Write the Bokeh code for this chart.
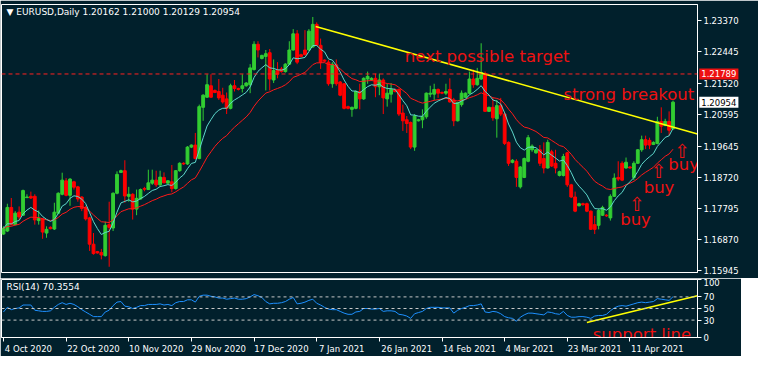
from bokeh.plotting import figure
from bokeh.models import Label, Span, FixedTicker, PrintfTickFormatter, ColumnDataSource, Range1d
from bokeh.layouts import column
from bokeh.core.properties import value
from bokeh.embed import file_html
from bokeh.resources import INLINE

# ---------------- data (EURUSD daily) ----------------
open_ = [1.1704,1.1713,1.1783,1.1732,1.1769,1.1760,1.1812,1.1816,1.1816,1.1744,
         1.1749,1.1707,1.1724,1.1719,1.1766,1.1822,1.1862,1.1819,1.1859,1.1844,
         1.1814,1.1783,1.1752,1.1674,1.1652,1.1649,1.1640,1.1732,1.1722,1.1825,
         1.1887,1.1892,1.1816,1.1822,1.1778,1.1808,1.1839,1.1836,1.1855,1.1864,
         1.1850,1.1872,1.1855,1.1859,1.1839,1.1892,1.1914,1.1912,1.1962,1.1968,
         1.1928,1.2080,1.2110,1.2144,1.2130,1.2127,1.2116,1.2105,1.2077,1.2144,
         1.2136,1.2136,1.2144,1.2147,1.2192,1.2267,1.2225,1.2231,1.2242,1.2161,
         1.2189,1.2194,1.2186,1.2208,1.2250,1.2298,1.2236,1.2250,1.2250,1.2259,
         1.2326,1.2264,1.2220,1.2214,1.2150,1.2206,1.2155,1.2150,1.2082,1.2074,
         1.2077,1.2127,1.2105,1.2164,1.2161,1.2166,1.2141,1.2161,1.2105,1.2119,
         1.2133,1.2133,1.2063,1.2043,1.2035,1.1962,1.2040,1.2043,1.2052,1.2119,
         1.2119,1.2133,1.2124,1.2122,1.2133,1.2102,1.2040,1.2088,1.2110,1.2122,
         1.2164,1.2147,1.2164,1.2180,1.2068,1.2080,1.2046,1.2085,1.2060,1.1976,
         1.1917,1.1920,1.1844,1.1872,1.1920,1.1954,1.1945,1.1954,1.1928,1.1900,
         1.1948,1.1914,1.1878,1.1878,1.1945,1.1850,1.1814,1.1788,1.1794,1.1794,
         1.1772,1.1732,1.1730,1.1760,1.1760,1.1752,1.1816,1.1872,1.1914,1.1900,
         1.1903,1.1872,1.1914,1.1954,1.1984,1.1982,1.1970,1.1973,1.2038,1.2026,
         1.2038,1.20162]
high = [1.1727,1.1794,1.1811,1.1772,1.1786,1.1836,1.1822,1.1830,1.1822,1.1774,
        1.1752,1.1727,1.1727,1.1797,1.1828,1.1886,1.1870,1.1870,1.1862,1.1847,
        1.1816,1.1788,1.1755,1.1707,1.1654,1.1660,1.1741,1.1800,1.1828,1.1890,
        1.1895,1.1923,1.1844,1.1825,1.1836,1.1839,1.1844,1.1895,1.1895,1.1892,
        1.1892,1.1887,1.1864,1.1909,1.1894,1.1917,1.1917,1.1965,1.1970,1.2004,
        1.2088,1.2119,1.2178,1.2178,1.2133,1.2164,1.2138,1.2124,1.2150,1.2161,
        1.2138,1.2178,1.2155,1.2208,1.2276,1.2276,1.2236,1.2250,1.2253,1.2222,
        1.2214,1.2200,1.2211,1.2276,1.2312,1.2309,1.2239,1.2309,1.2312,1.2348,
        1.2332,1.2284,1.2222,1.2220,1.2214,1.2222,1.2158,1.2152,1.2085,1.2082,
        1.2130,1.2150,1.2169,1.2186,1.2169,1.2180,1.2180,1.2166,1.2150,1.2152,
        1.2136,1.2136,1.2088,1.2054,1.2038,1.2060,1.2046,1.2074,1.2124,1.2144,
        1.2150,1.2136,1.2127,1.2150,1.2166,1.2108,1.2096,1.2130,1.2124,1.2186,
        1.2192,1.2197,1.2270,1.2186,1.2082,1.2108,1.2102,1.2108,1.2066,1.1979,
        1.1926,1.1926,1.1906,1.1931,1.1998,1.1970,1.1956,1.1968,1.1976,1.1984,
        1.1954,1.1954,1.1892,1.1942,1.1948,1.1853,1.1830,1.1797,1.1797,1.1797,
        1.1774,1.1758,1.1780,1.1788,1.1763,1.1822,1.1884,1.1920,1.1920,1.1931,
        1.1906,1.1920,1.1956,1.1996,1.1996,1.1990,1.1979,1.2052,1.2080,1.2046,
        1.2068,1.21000]
low = [1.1702,1.1710,1.1730,1.1730,1.1746,1.1758,1.1811,1.1808,1.1732,1.1732,
       1.1690,1.1693,1.1718,1.1716,1.1763,1.1819,1.1816,1.1788,1.1836,1.1800,
       1.1772,1.1744,1.1654,1.1643,1.1646,1.1629,1.1637,1.1607,1.1713,1.1822,
       1.1886,1.1797,1.1800,1.1747,1.1760,1.1806,1.1831,1.1835,1.1850,1.1844,
       1.1845,1.1855,1.1853,1.1828,1.1836,1.1889,1.1909,1.1909,1.1959,1.1926,
       1.1926,1.2040,1.2108,1.2108,1.2122,1.2102,1.2091,1.2060,1.2074,1.2127,
       1.2130,1.2124,1.2141,1.2122,1.2189,1.2228,1.2222,1.2130,1.2130,1.2152,
       1.2166,1.2183,1.2183,1.2206,1.2248,1.2208,1.2228,1.2234,1.2248,1.2256,
       1.2262,1.2194,1.2214,1.2144,1.2138,1.2144,1.2113,1.2074,1.2074,1.2052,
       1.2074,1.2074,1.2102,1.2150,1.2158,1.2110,1.2116,1.2060,1.2082,1.2094,
       1.2124,1.2054,1.2010,1.2004,1.1956,1.1951,1.2038,1.2018,1.2046,1.2110,
       1.2102,1.2108,1.2119,1.2116,1.2094,1.2024,1.2038,1.2082,1.2108,1.2119,
       1.2138,1.2144,1.2161,1.2066,1.2066,1.2040,1.1990,1.2054,1.1968,1.1906,
       1.1914,1.1844,1.1839,1.1870,1.1917,1.1948,1.1942,1.1906,1.1884,1.1898,
       1.1903,1.1884,1.1875,1.1875,1.1844,1.1811,1.1769,1.1786,1.1788,1.1769,
       1.1716,1.1704,1.1718,1.1758,1.1755,1.1744,1.1814,1.1861,1.1861,1.1898,
       1.1898,1.1864,1.1912,1.1948,1.1956,1.1956,1.1968,1.1970,1.2004,1.2024,
       1.1996,1.20129]
close = [1.1721,1.1783,1.1732,1.1766,1.1755,1.1833,1.1814,1.1811,1.1746,1.1750,
         1.1710,1.1718,1.1720,1.1769,1.1825,1.1864,1.1819,1.1867,1.1843,1.1808,
         1.1780,1.1749,1.1674,1.1646,1.1648,1.1642,1.1730,1.1724,1.1825,1.1881,
         1.1892,1.1817,1.1822,1.1778,1.1810,1.1836,1.1837,1.1856,1.1864,1.1850,
         1.1873,1.1856,1.1862,1.1839,1.1892,1.1914,1.1912,1.1962,1.1968,1.1928,
         1.2082,1.2116,1.2147,1.2110,1.2124,1.2108,1.2096,1.2077,1.2144,1.2136,
         1.2133,1.2144,1.2152,1.2197,1.2267,1.2250,1.2234,1.2239,1.2164,1.2189,
         1.2178,1.2186,1.2208,1.2250,1.2298,1.2214,1.2231,1.2236,1.2306,1.2326,
         1.2264,1.2214,1.2217,1.2150,1.2208,1.2150,1.2116,1.2077,1.2077,1.2080,
         1.2127,1.2105,1.2166,1.2172,1.2166,1.2141,1.2161,1.2108,1.2122,1.2133,
         1.2127,1.2060,1.2040,1.2032,1.1962,1.2054,1.2043,1.2052,1.2122,1.2122,
         1.2133,1.2122,1.2122,1.2127,1.2096,1.2040,1.2094,1.2122,1.2122,1.2164,
         1.2147,1.2166,1.2183,1.2068,1.2080,1.2049,1.2085,1.2060,1.1973,1.1914,
         1.1923,1.1872,1.1903,1.1928,1.1990,1.1965,1.1954,1.1914,1.1900,1.1976,
         1.1906,1.1900,1.1889,1.1934,1.1850,1.1814,1.1772,1.1794,1.1791,1.1772,
         1.1718,1.1718,1.1774,1.1783,1.1758,1.1816,1.1870,1.1867,1.1864,1.1917,
         1.1900,1.1914,1.1954,1.1984,1.1968,1.1968,1.1976,1.2038,1.2024,1.2038,
         1.2012,1.20954]
rsi = [44,52,48,50,51,56,56,56,47,46,45,45,46,52,57,60,57,59,57,53,
       48,44,40,36,36,36,44,47,55,61,62,54,53,50,52,55,55,57,57,57,
       58,56,57,55,60,62,62,65,65,61,71,73,73,71,70,68,68,66,67,68,
       66,66,67,70,74,72,69,62,58,59,59,60,62,66,69,58,59,61,64,66,
       59,56,52,49,48,48,45,42,40,40,44,45,50,50,49,49,50,45,46,46,
       45,40,39,37,33,41,43,45,50,52,52,52,51,51,51,42,47,50,52,55,
       55,56,58,44,43,45,44,41,36,34,33,28,35,39,42,42,41,40,39,44,
       43,41,40,45,38,35,35,36,36,35,33,37,38,38,40,46,51,54,55,54,
       56,58,60,61,60,61,62,67,66,65,64,70.3554]

date_tick_idx = [0, 16, 32, 48, 64, 80, 96, 112, 128, 144, 160]
date_tick_labels = ["4 Oct 2020", "22 Oct 2020", "10 Nov 2020", "29 Nov 2020", "17 Dec 2020",
                    "7 Jan 2021", "26 Jan 2021", "14 Feb 2021", "4 Mar 2021", "23 Mar 2021",
                    "11 Apr 2021"]
price_ticks = [1.23370, 1.22445, 1.21520, 1.20595, 1.19645, 1.18720, 1.17795, 1.16870, 1.15945]
rsi_ticks = [0, 30, 50, 70, 100]
rsi_levels = [30, 50, 70]

target_level = 1.21789
last_price = 1.20954
title_text = "\u25BC EURUSD,Daily  1.20162 1.21000 1.20129 1.20954"
rsi_title = "RSI(14) 70.3554"

trend_x = [79.75, 177.25]
trend_y = [1.2320, 1.2001]
rsi_sup_x = [149.0, 177.25]
rsi_sup_y = [26.0, 72.0]

note_x = [102.5, 143.0, 157.5, 163.5, 169.8]
note_y = [1.2230, 1.2118, 1.1746, 1.1842, 1.1909]
note_text = ["next possible target", "strong breakout", "buy", "buy", "buy"]
arrow_x = [161.75, 167.25, 173.25]
arrow_y = [1.1794, 1.1892, 1.1951]

# ---------------- derived series ----------------
def ema(vals, n):
    k = 2.0 / (n + 1)
    out, e = [], vals[0]
    for v in vals:
        e = v * k + e * (1 - k)
        out.append(e)
    return out

n = len(close)
idx = list(range(n))
ma_fast = ema(close, 8)
ma_slow = ema(close, 21)

BG = "#01202c"
UP = "#32cd32"
DN = "#ff0000"
FONT = "DejaVu Sans"
FS = "8.5px"

src = ColumnDataSource(dict(
    x=idx, open=open_, high=high, low=low, close=close,
    top=[max(o, c) for o, c in zip(open_, close)],
    bottom=[min(o, c) for o, c in zip(open_, close)],
    color=[UP if c >= o else DN for o, c in zip(open_, close)],
))

FW = 696
X0, X1 = -0.5, 177.25
PX_PER_BAR = FW / (X1 - X0)


def style_axis(ax):
    ax.axis_line_color = "white"
    ax.major_tick_line_color = "white"
    ax.minor_tick_line_color = None
    ax.major_tick_in = 0
    ax.major_tick_out = 4
    ax.major_label_text_color = "white"
    ax.major_label_text_font = FONT
    ax.major_label_text_font_size = FS
    ax.major_label_standoff = 2


def tag(level, fg, bg):
    kw = dict(x=X1 + 0.45, y=level, x_units="data", y_units="data",
              text="%.5f" % level, text_color=fg, text_font=FONT,
              text_font_size=FS, text_baseline="middle",
              background_fill_color=bg)
    if "padding" in Label.properties():
        kw["padding"] = 2
    return Label(**kw)


# ---------------- main price panel ----------------
p1 = figure(frame_width=FW, frame_height=268,
            x_range=Range1d(X0, X1), y_range=Range1d(1.1590, 1.2385),
            y_axis_location="right", x_axis_location=None,
            output_backend="svg", toolbar_location=None,
            background_fill_color=BG, border_fill_color=BG,
            min_border_left=1, min_border_right=44, min_border_top=4, min_border_bottom=6,
            outline_line_color="white", outline_line_width=1)
p1.xgrid.visible = False
p1.ygrid.visible = False
style_axis(p1.yaxis[0])
p1.yaxis[0].ticker = FixedTicker(ticks=price_ticks)
p1.yaxis[0].formatter = PrintfTickFormatter(format="%.5f")

p1.add_layout(Span(location=target_level, dimension="width", line_color="#ff2020",
                   line_dash="4 3", line_width=1))

p1.segment(x0="x", y0="low", x1="x", y1="high", line_color="color", line_width=1, source=src)
p1.vbar(x="x", width=0.72, top="top", bottom="bottom", fill_color="color",
        line_color="color", line_width=1, source=src)

p1.line(idx, ma_slow, line_color="#ff1a1a", line_width=1)
p1.line(idx, ma_fast, line_color="#5fd8cc", line_width=1)

p1.line(trend_x, trend_y, line_color="#ffff00", line_width=1.5)

p1.text(x=note_x, y=note_y, text=note_text, text_color="#ee1111",
        text_font=value(FONT), text_font_size="16.5px",
        text_align="left", text_baseline="middle")
p1.text(x=arrow_x, y=arrow_y, text=["\u21E7"] * len(arrow_x), text_color="#ee1111",
        text_font=value(FONT), text_font_size="19px",
        text_align="center", text_baseline="middle")

p1.add_layout(Label(x=5, y=266, x_units="screen", y_units="screen", text=title_text,
                    text_color="white", text_font=FONT, text_font_size="9px",
                    text_baseline="top"))
# price tags on the axis, just right of the frame (side panel => not clipped)
p1.add_layout(tag(target_level, "white", "#ee1111"), "right")
p1.add_layout(tag(last_price, "black", "white"), "right")

# ---------------- RSI panel ----------------
p2 = figure(frame_width=FW, frame_height=58,
            x_range=p1.x_range, y_range=Range1d(0, 100),
            y_axis_location="right",
            output_backend="svg", toolbar_location=None,
            background_fill_color=BG, border_fill_color=BG,
            min_border_left=1, min_border_right=44, min_border_top=1, min_border_bottom=2,
            outline_line_color="white", outline_line_width=1)
p2.xgrid.visible = False
p2.ygrid.visible = False
style_axis(p2.yaxis[0])
p2.yaxis[0].ticker = FixedTicker(ticks=rsi_ticks)

# date labels start at their tick (MetaTrader style): shift each label centre
# right by half its width; the true tick positions are drawn as minor ticks
xa = p2.xaxis[0]
style_axis(xa)
half_w = [len(s) * 0.56 * 8.5 / 2 / PX_PER_BAR for s in date_tick_labels]
label_pos = [i + h + 0.3 for i, h in zip(date_tick_idx, half_w)]
xa.ticker = FixedTicker(ticks=label_pos, minor_ticks=date_tick_idx)
xa.major_label_overrides = {p: s for p, s in zip(label_pos, date_tick_labels)}
xa.major_tick_out = 0
xa.minor_tick_line_color = "white"
xa.minor_tick_out = 4
xa.minor_tick_in = 0

for lv in rsi_levels:
    p2.add_layout(Span(location=lv, dimension="width", line_color="#c8c8c8",
                       line_dash="3 3", line_width=1))

p2.line(idx, rsi, line_color="#1e90ff", line_width=1)
p2.line(rsi_sup_x, rsi_sup_y, line_color="#ffff00", line_width=1.5)
p2.text(x=[150.5], y=[6], text=["support line"], text_color="#ee1111",
        text_font=value(FONT), text_font_size="16.5px",
        text_align="left", text_baseline="middle")
p2.add_layout(Label(x=5, y=56, x_units="screen", y_units="screen", text=rsi_title,
                    text_color="white", text_font=FONT, text_font_size="9px",
                    text_baseline="top"))

layout = column(p1, p2, spacing=0)
open("out.html", "w").write(file_html(layout, INLINE))
